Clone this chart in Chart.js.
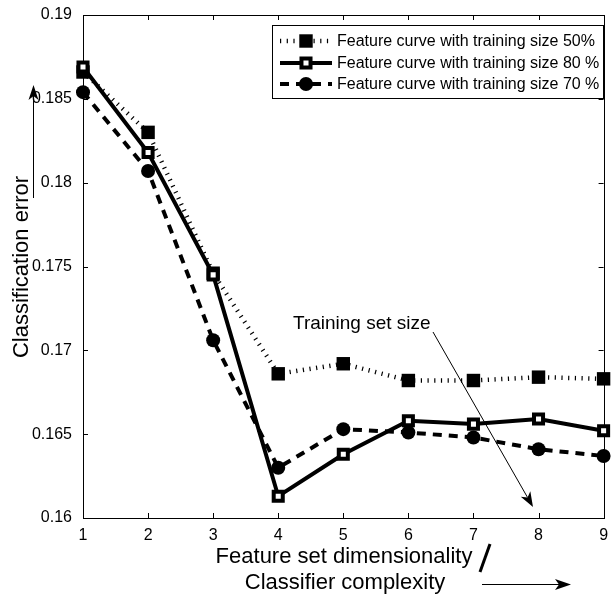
<!DOCTYPE html>
<html>
<head>
<meta charset="utf-8">
<script src="https://cdn.jsdelivr.net/npm/chart.js@4.4.0/dist/chart.umd.min.js"></script>
<style>
  body { margin: 0; background: #fff; }
  #wrap { width: 614px; height: 594px; }
</style>
</head>
<body>
<div id="wrap"><canvas id="errChart" width="614" height="594"></canvas></div>
<script>
const FONT = "'Liberation Sans', Arial, Helvetica, sans-serif";

// feature set size on x, classification error on y
const featureDims = [1, 2, 3, 4, 5, 6, 7, 8, 9];
const xTicks = [1, 2, 3, 4, 5, 6, 7, 8, 9];
const yTicks = [0.16, 0.165, 0.17, 0.175, 0.18, 0.185, 0.19];

const err50 = [0.1866, 0.1830, 0.1746, 0.1686, 0.1692, 0.1682, 0.1682, 0.1684, 0.1683];
const err80 = [0.1869, 0.1818, 0.1745, 0.1613, 0.1638, 0.1658, 0.1656, 0.1659, 0.1652];
const err70 = [0.1854, 0.1807, 0.1706, 0.1630, 0.1653, 0.1651, 0.1648, 0.1641, 0.1637];

const seriesLabels = [
  "Feature curve with training size 50%",
  "Feature curve with training size 80 %",
  "Feature curve with training size 70 %",
];

function toPoints(ys) {
  return featureDims.map((x, i) => ({ x: x, y: ys[i] }));
}

// arrow with a notched head, tip at (x2, y2)
function drawArrow(ctx, x1, y1, x2, y2, len, half, notch) {
  const ang = Math.atan2(y2 - y1, x2 - x1);
  const c = Math.cos(ang), s = Math.sin(ang);
  const bx = x2 - len * c, by = y2 - len * s;
  const nx = x2 - (len - notch) * c, ny = y2 - (len - notch) * s;
  ctx.save();
  ctx.strokeStyle = "#000";
  ctx.fillStyle = "#000";
  ctx.lineWidth = 1;
  ctx.setLineDash([]);
  ctx.beginPath();
  ctx.moveTo(x1, y1);
  ctx.lineTo(nx, ny);
  ctx.stroke();
  ctx.beginPath();
  ctx.moveTo(x2, y2);
  ctx.lineTo(bx - half * s, by + half * c);
  ctx.lineTo(nx, ny);
  ctx.lineTo(bx + half * s, by - half * c);
  ctx.closePath();
  ctx.fill();
  ctx.restore();
}

function drawMarker(ctx, ds, x, y) {
  ctx.save();
  ctx.setLineDash([]);
  ctx.fillStyle = ds.pointBackgroundColor;
  ctx.strokeStyle = ds.pointBorderColor;
  ctx.lineWidth = ds.pointBorderWidth;
  ctx.beginPath();
  if (ds.pointStyle === "rect") {
    const h = Math.SQRT1_2 * ds.pointRadius;
    ctx.rect(x - h, y - h, 2 * h, 2 * h);
  } else {
    ctx.arc(x, y, ds.pointRadius, 0, Math.PI * 2);
  }
  ctx.fill();
  if (ds.pointBorderWidth > 0) ctx.stroke();
  ctx.restore();
}

// box, inward ticks, legend and the annotation arrows
const decor = {
  id: "decor",
  beforeDatasetsDraw(chart) {
    const { ctx, chartArea: a, scales } = chart;
    ctx.save();
    ctx.strokeStyle = "#000";
    ctx.lineWidth = 1;
    ctx.beginPath();
    xTicks.forEach((t) => {
      const px = Math.round(scales.x.getPixelForValue(t)) + 0.5;
      ctx.moveTo(px, a.bottom); ctx.lineTo(px, a.bottom - 5);
      ctx.moveTo(px, a.top); ctx.lineTo(px, a.top + 5);
    });
    yTicks.forEach((t) => {
      const py = Math.round(scales.y.getPixelForValue(t)) + 0.5;
      ctx.moveTo(a.left, py); ctx.lineTo(a.left + 5, py);
      ctx.moveTo(a.right, py); ctx.lineTo(a.right - 5, py);
    });
    ctx.stroke();
    ctx.strokeRect(Math.round(a.left) + 0.5, Math.round(a.top) + 0.5,
      Math.round(a.right - a.left), Math.round(a.bottom - a.top));
    ctx.restore();
  },
  afterDraw(chart) {
    const { ctx } = chart;
    const sets = chart.data.datasets;

    // legend
    ctx.save();
    ctx.fillStyle = "#fff";
    ctx.fillRect(272, 25, 331, 73);
    ctx.strokeStyle = "#000";
    ctx.lineWidth = 1;
    ctx.strokeRect(272.5, 25.5, 331, 73);
    const rows = [41, 63, 84];
    sets.forEach((ds, i) => {
      const y = rows[i];
      ctx.save();
      ctx.strokeStyle = ds.borderColor;
      ctx.lineWidth = ds.borderWidth;
      ctx.setLineDash(ds.borderDash || []);
      ctx.beginPath();
      ctx.moveTo(280, y);
      ctx.lineTo(332, y);
      ctx.stroke();
      ctx.restore();
      drawMarker(ctx, ds, 306, y);
      ctx.fillStyle = "#000";
      ctx.font = "16px " + FONT;
      ctx.textAlign = "left";
      ctx.textBaseline = "middle";
      ctx.fillText(ds.label, 337, y + 1);
    });
    ctx.restore();

    // training set size annotation
    ctx.save();
    ctx.fillStyle = "#000";
    ctx.font = "19px " + FONT;
    ctx.textAlign = "left";
    ctx.textBaseline = "alphabetic";
    ctx.fillText("Training set size", 293, 329);
    ctx.restore();
    drawArrow(ctx, 433, 332, 533, 507, 15, 5.5, 4);

    // y axis title and arrow
    ctx.save();
    ctx.fillStyle = "#000";
    ctx.font = "22px " + FONT;
    ctx.translate(28, 267);
    ctx.rotate(-Math.PI / 2);
    ctx.textAlign = "center";
    ctx.textBaseline = "alphabetic";
    ctx.fillText("Classification error", 0, 0);
    ctx.restore();
    drawArrow(ctx, 33.5, 198, 33.5, 85, 15, 5, 4);

    // x axis title, slash and arrow
    ctx.save();
    ctx.fillStyle = "#000";
    ctx.font = "22px " + FONT;
    ctx.textAlign = "center";
    ctx.textBaseline = "alphabetic";
    ctx.fillText("Feature set dimensionality", 344, 563);
    ctx.fillText("Classifier complexity", 345, 589);
    ctx.strokeStyle = "#000";
    ctx.lineWidth = 3;
    ctx.beginPath();
    ctx.moveTo(480, 572);
    ctx.lineTo(490, 544);
    ctx.stroke();
    ctx.restore();
    drawArrow(ctx, 482, 584.5, 571, 584.5, 16, 5.5, 4);
  },
};

const ctx = document.getElementById("errChart").getContext("2d");

new Chart(ctx, {
  type: "line",
  data: {
    datasets: [
      {
        label: seriesLabels[0],
        data: toPoints(err50),
        borderColor: "#000",
        borderWidth: 4.5,
        borderDash: [1.2, 5.5],
        pointStyle: "rect",
        pointRadius: 9.5,
        pointBorderWidth: 0,
        pointBackgroundColor: "#000",
        pointBorderColor: "#000",
        order: 2,
      },
      {
        label: seriesLabels[1],
        data: toPoints(err80),
        borderColor: "#000",
        borderWidth: 4,
        pointStyle: "rect",
        pointRadius: 6.4,
        pointBorderWidth: 4,
        pointBackgroundColor: "#fff",
        pointBorderColor: "#000",
        order: 0,
      },
      {
        label: seriesLabels[2],
        data: toPoints(err70),
        borderColor: "#000",
        borderWidth: 4,
        borderDash: [9, 7],
        pointStyle: "circle",
        pointRadius: 7,
        pointBorderWidth: 0,
        pointBackgroundColor: "#000",
        pointBorderColor: "#000",
        order: 1,
      },
    ],
  },
  options: {
    responsive: false,
    devicePixelRatio: 1,
    animation: false,
    clip: false,
    layout: { padding: { left: 0, top: 15, right: 5, bottom: 0 } },
    elements: { line: { tension: 0, fill: false } },
    plugins: {
      legend: { display: false },
      tooltip: { enabled: false },
    },
    scales: {
      x: {
        type: "linear",
        position: "bottom",
        min: 1,
        max: 9,
        afterBuildTicks: (s) => { s.ticks = xTicks.map((v) => ({ value: v })); },
        afterFit: (s) => { s.height = 76; },
        grid: { display: false },
        border: { display: false },
        ticks: {
          color: "#000",
          font: { family: FONT, size: 16 },
          padding: 0,
          maxRotation: 0,
          autoSkip: false,
        },
      },
      y: {
        type: "linear",
        position: "left",
        min: 0.16,
        max: 0.19,
        afterBuildTicks: (s) => { s.ticks = yTicks.map((v) => ({ value: v })); },
        afterFit: (s) => { s.width = 83; },
        grid: { display: false },
        border: { display: false },
        ticks: {
          color: "#000",
          font: { family: FONT, size: 16 },
          padding: 3,
          autoSkip: false,
          callback: (v) => String(v),
        },
      },
    },
  },
  plugins: [decor],
});
</script>
</body>
</html>
